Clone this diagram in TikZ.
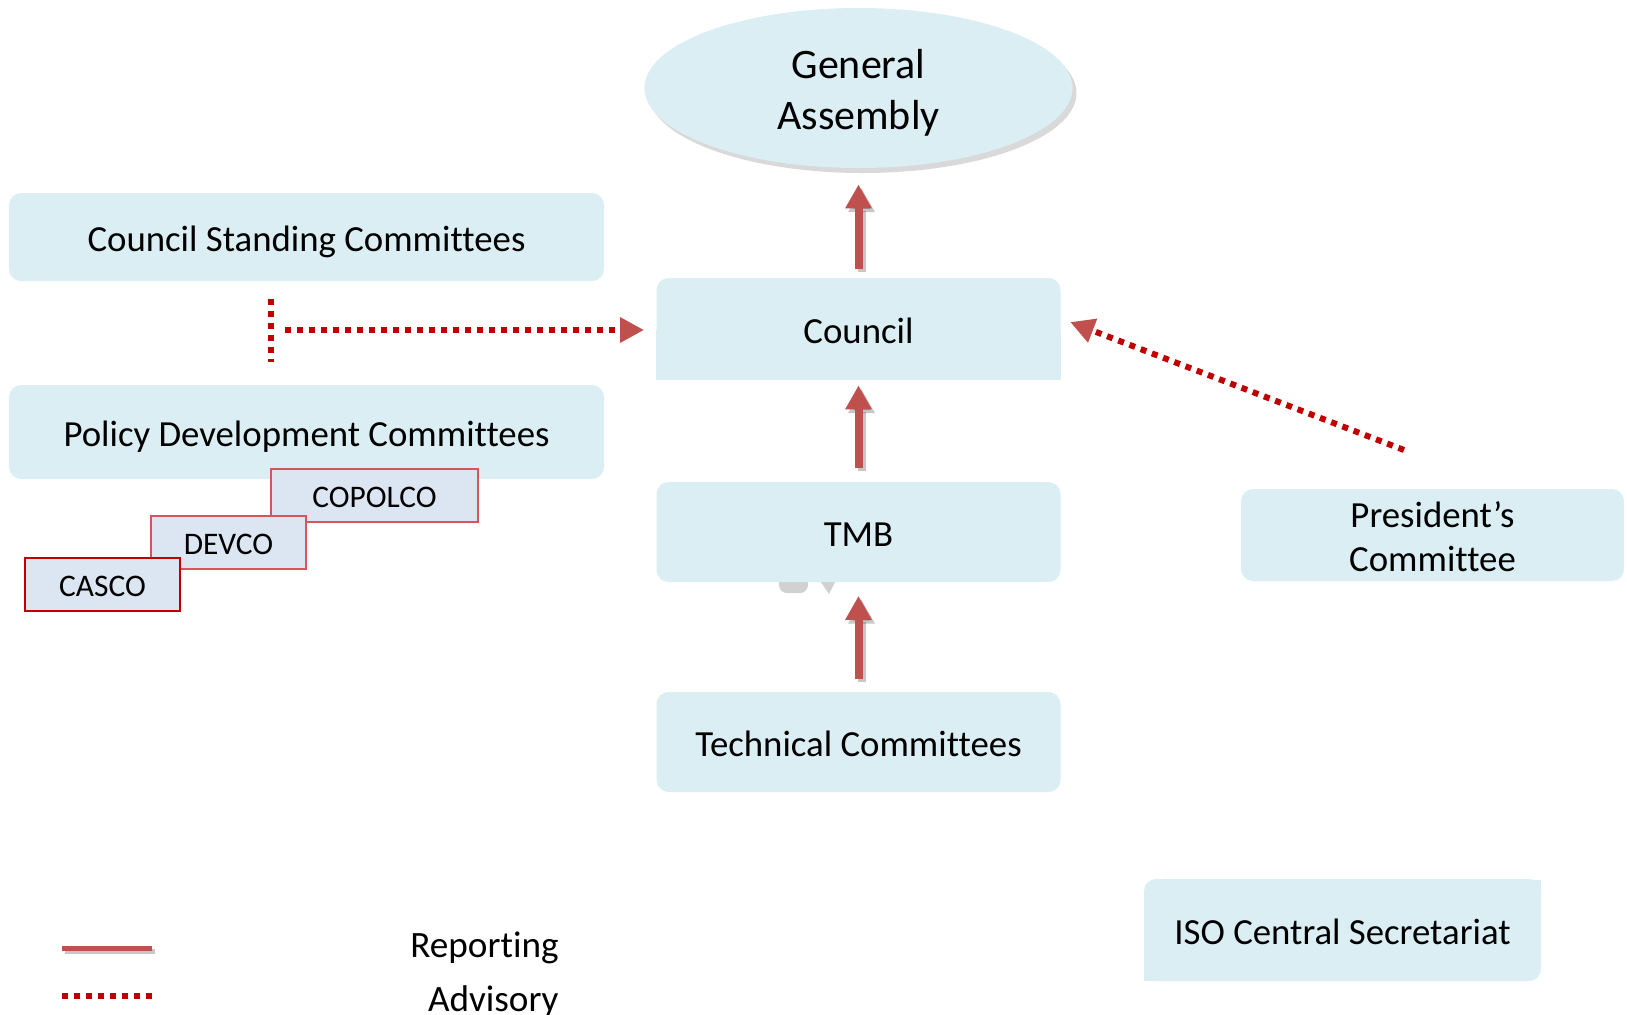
\documentclass[tikz,border=0pt]{standalone}
\usepackage{fontspec}
\setmainfont{Carlito}[Ligatures=NoCommon]
\usepackage{tikz}
\usetikzlibrary{arrows.meta,shapes.geometric,shadows}
\definecolor{boxblue}{HTML}{DAEEF3}
\definecolor{subblue}{HTML}{DCE6F2}
\definecolor{subred}{HTML}{D9545A}
\definecolor{repred}{HTML}{C0504D}
\definecolor{advred}{HTML}{C00000}

\begin{document}
\begin{tikzpicture}[x=0.5pt,y=-0.5pt,
  box/.style={fill=boxblue,rounded corners=6pt,align=center,inner sep=0pt,font=\fontsize{18.4}{22}\selectfont},
  onebox/.style={box,text height=14.8pt,text depth=0pt},
  subbox/.style={fill=subblue,draw=subred,line width=1pt,inner sep=0pt,text height=12.3pt,text depth=0pt,font=\fontsize{15.7}{19}\selectfont},
  report/.style={draw=repred,line width=4pt,-{Triangle[length=12pt,width=12.5pt]}},
  repshadow/.style={draw=black,opacity=.22,transform canvas={xshift=1.5pt,yshift=-1.8pt}},
  advise/.style={draw=advred,line width=3pt,dash pattern=on 3pt off 3pt},
  advtip/.style={-{Triangle[length=12pt,width=12pt,color=repred,fill=repred]}},
  legend/.style={inner sep=0pt,font=\fontsize{18.6}{22}\selectfont}]
\useasboundingbox (0,0) rectangle (1627,1014);
% top
\node[box,ellipse,rounded corners=0pt,minimum width=214pt,minimum height=80pt,
  font=\fontsize{21}{25.4}\selectfont,
  drop shadow={shadow xshift=2pt,shadow yshift=-2.5pt,opacity=.3}] (ga) at (858.5,88) {\rule{0pt}{19.3pt}General\\Assembly};
% left column
\node[onebox,minimum width=297.5pt,minimum height=44pt] (csc) at (306.5,237) {Council Standing Committees};
\node[onebox,minimum width=297.5pt,minimum height=47pt] (pdc) at (306.5,432) {Policy Development Committees};
\node[subbox,minimum width=103.5pt,minimum height=26.5pt] (copolco) at (374.5,495) {COPOLCO};
\node[subbox,minimum width=77.5pt,minimum height=26.5pt] (devco) at (228.5,542.5) {DEVCO};
\node[subbox,draw=advred,minimum width=77.5pt,minimum height=26.5pt] (casco) at (102.5,584.5) {CASCO};
% centre column
\fill[boxblue] (656,330) rectangle (1060.5,379.5);
\node[onebox,minimum width=202pt,minimum height=50.5pt] (council) at (858.5,328.5) {Council};
\fill[black!18,rounded corners=4pt] (779,575) rectangle (808,593);
\fill[black!18] (818,578) -- (837,578) -- (829,594) -- cycle;
\node[onebox,minimum width=202pt,minimum height=50pt] (tmb) at (858.5,532) {TMB};
\node[onebox,minimum width=202pt,minimum height=50pt] (tc) at (858.5,742) {Technical Committees};
% right column
\node[box,minimum width=191.5pt,minimum height=46pt] (pres) at (1432.5,535) {\rule{0pt}{14.5pt}President’s\\Committee};
\fill[boxblue] (1342,879.5) rectangle (1541,930);
\fill[boxblue] (1144,930) rectangle (1342,980.5);
\node[onebox,minimum width=198.5pt,minimum height=51pt] (iso) at (1342.5,930) {ISO Central Secretariat};
% reporting
\foreach \a/\b/\s/\e in {council/ga/4.5/8, tmb/council/7/3, tc/tmb/6.5/6.75} {
  \draw[report,repshadow,shorten <=\s pt,shorten >=\e pt] (\a.north) -- (\b.south);
  \draw[report,shorten <=\s pt,shorten >=\e pt] (\a.north) -- (\b.south);
}
% advisory
\coordinate (advTop) at (271,299);
\coordinate (advBot) at (271,362);
\coordinate (advCsc) at (285,330);
\coordinate (advPres) at (1404,450);
\draw[advise] (advTop) -- (advBot);
\draw[advise,advtip,shorten >=6pt] (advCsc) -- (advCsc -| council.west);
\draw[advise,advtip,shorten >=5pt] (advPres) -- ([yshift=5pt]council.east);
% legend
\coordinate (repA) at (62,948);
\coordinate (repB) at (152,948);
\coordinate (advA) at (62,996);
\coordinate (advB) at (152,996);
\draw[repred,line width=2.5pt,repshadow] (repA) -- (repB);
\draw[repred,line width=2.5pt] (repA) -- (repB);
\draw[advise] (advA) -- (advB);
\node[legend,anchor=base east] (lrep) at (559,957) {Reporting};
\node[legend,anchor=base east] (ladv) at (559,1011) {Advisory};
\end{tikzpicture}
\end{document}
